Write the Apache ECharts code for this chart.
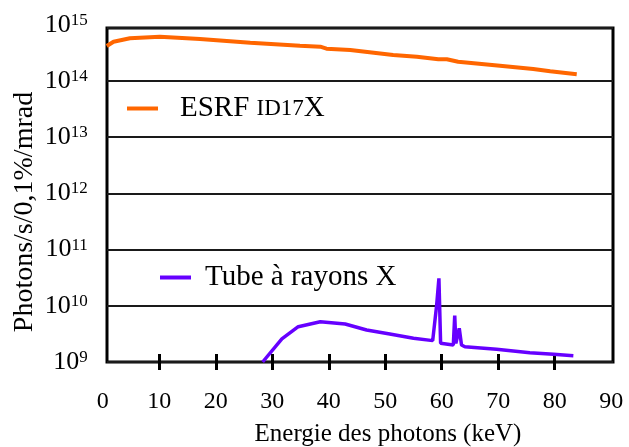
<!DOCTYPE html>
<html>
<head>
<meta charset="utf-8">
<script src="https://cdn.jsdelivr.net/npm/echarts@6/dist/echarts.min.js"></script>
<style>
html,body{margin:0;padding:0;background:#fff;}
#chart{width:629px;height:447px;}
</style>
</head>
<body>
<div id="chart"></div>
<script>
// ---- data ----
const energyESRF = [0.7, 1.9, 4.8, 10.1, 17.2, 26.1, 34.9, 38.5, 39.6, 43.8, 51.4, 55.6, 59.4, 60.9, 62.9, 70.3, 76.2, 79.2, 83.9];
const fluxESRF = [4.20e14, 5.00e14, 5.75e14, 6.14e14, 5.58e14, 4.80e14, 4.25e14, 4.08e14, 3.76e14, 3.56e14, 2.90e14, 2.71e14, 2.43e14, 2.43e14, 2.20e14, 1.87e14, 1.64e14, 1.49e14, 1.32e14];

const energyTube = [28.3, 31.7, 34.6, 38.5, 42.9, 46.7, 50.8, 55.0, 58.4, 59.1, 59.5, 59.8, 62.05, 62.3, 62.5, 63.1, 63.5, 64.1, 69.7, 75.6, 79.8, 83.3];
const fluxTube = [1.0e9, 2.57e9, 4.25e9, 5.21e9, 4.74e9, 3.71e9, 3.15e9, 2.64e9, 2.40e9, 1.03e10, 3.08e10, 2.15e9, 2.01e9, 6.67e9, 2.15e9, 3.98e9, 2.01e9, 1.87e9, 1.68e9, 1.46e9, 1.37e9, 1.29e9];

const xTickLabels = [0, 10, 20, 30, 40, 50, 60, 70, 80, 90];
const xTickMarks = [10, 20, 30, 40, 50, 60, 70, 80];
const yTickExponents = [9, 10, 11, 12, 13, 14, 15];

const seriesNames = ['ESRF ID17X', 'Tube à rayons X'];
const xTitle = 'Energie des photons (keV)';
const yTitle = 'Photons/s/0,1%/mrad';

const FONT = '"Liberation Serif", "Times New Roman", serif';
const orange = '#FF6600';
const purple = '#6600FF';

const chart = echarts.init(document.getElementById('chart'), null, {renderer: 'canvas'});

const tickStyle = {show: true, length: 8, lineStyle: {color: '#000', width: 3}, customValues: xTickMarks};

chart.setOption({
  animation: false,
  backgroundColor: '#fff',
  grid: [
    {left: 107, right: 16, top: 28, bottom: 85, show: true, borderColor: '#000', borderWidth: 3, containLabel: false},
    {left: 102.8, right: 17.8, top: 24.8, bottom: 85, show: false, containLabel: false}
  ],
  xAxis: [
    {type: 'value', gridIndex: 0, position: 'bottom', min: 0.7435, max: 90.317,
     axisLine: {show: false}, axisTick: Object.assign({inside: false}, tickStyle),
     axisLabel: {show: false}, splitLine: {show: false}},
    {type: 'value', gridIndex: 0, position: 'bottom', min: 0.7435, max: 90.317,
     axisLine: {show: false}, axisTick: Object.assign({inside: true}, tickStyle),
     axisLabel: {show: false}, splitLine: {show: false}},
    {type: 'value', gridIndex: 1, position: 'bottom', min: xTickLabels[0], max: xTickLabels[xTickLabels.length - 1], interval: 10,
     axisLine: {show: false}, axisTick: {show: false}, splitLine: {show: false},
     axisLabel: {show: true, margin: 28, color: '#000', fontFamily: FONT, fontSize: 24,
                 customValues: xTickLabels, formatter: v => String(v)}}
  ],
  yAxis: [
    {type: 'log', logBase: 10, gridIndex: 0, min: Math.pow(10, yTickExponents[0]), max: Math.pow(10, 14.943),
     axisLine: {show: false}, axisTick: {show: false}, axisLabel: {show: false},
     splitLine: {show: true, lineStyle: {color: '#1a1a1a', width: 2}}},
    {type: 'log', logBase: 10, gridIndex: 1,
     min: Math.pow(10, yTickExponents[0]), max: Math.pow(10, yTickExponents[yTickExponents.length - 1]),
     axisLine: {show: false}, axisTick: {show: false}, splitLine: {show: false},
     axisLabel: {show: true, margin: 15, color: '#000', fontFamily: FONT, fontSize: 26,
       formatter: function (v) {
         const e = Math.round(Math.log10(v));
         if (yTickExponents.indexOf(e) < 0 || Math.abs(Math.log10(v) - e) > 1e-6) return '';
         return '{b|10}{s|' + e + '}';
       },
       rich: {
         b: {fontFamily: FONT, fontSize: 26, color: '#000'},
         s: {fontFamily: FONT, fontSize: 17, color: '#000', verticalAlign: 'top'}
       }}}
  ],
  legend: [
    {data: [seriesNames[0]], left: 127, top: 94, padding: 0, orient: 'horizontal', icon: 'rect',
     itemWidth: 31, itemHeight: 4, selectedMode: false,
     formatter: () => '{n|ESRF }{sc|ID17}{n|X}',
     textStyle: {color: '#000', fontFamily: FONT, fontSize: 29, padding: [0, 0, 0, 17],
       rich: {n: {fontFamily: FONT, fontSize: 29, color: '#000'},
              sc: {fontFamily: FONT, fontSize: 23, color: '#000'}}}},
    {data: [seriesNames[1]], left: 160, top: 263, padding: 0, orient: 'horizontal', icon: 'rect',
     itemWidth: 31, itemHeight: 4, selectedMode: false,
     textStyle: {color: '#000', fontFamily: FONT, fontSize: 29, padding: [0, 0, 0, 9]}}
  ],
  graphic: [
    {type: 'text', x: 25, y: 212, rotation: Math.PI / 2,
     style: {text: yTitle, fontFamily: FONT, fontSize: 28, fill: '#000', align: 'center', verticalAlign: 'middle'}},
    {type: 'text', x: 388, y: 434,
     style: {text: xTitle, fontFamily: FONT, fontSize: 25, fill: '#000', align: 'center', verticalAlign: 'middle'}}
  ],
  series: [
    {name: seriesNames[0], type: 'line', xAxisIndex: 0, yAxisIndex: 0, showSymbol: false, symbol: 'none',
     lineStyle: {color: orange, width: 4}, itemStyle: {color: orange},
     data: energyESRF.map((e, i) => [e, fluxESRF[i]])},
    {name: seriesNames[1], type: 'line', xAxisIndex: 0, yAxisIndex: 0, showSymbol: false, symbol: 'none',
     lineStyle: {color: purple, width: 3.5}, itemStyle: {color: purple},
     data: energyTube.map((e, i) => [e, fluxTube[i]])}
  ]
});
</script>
</body>
</html>
